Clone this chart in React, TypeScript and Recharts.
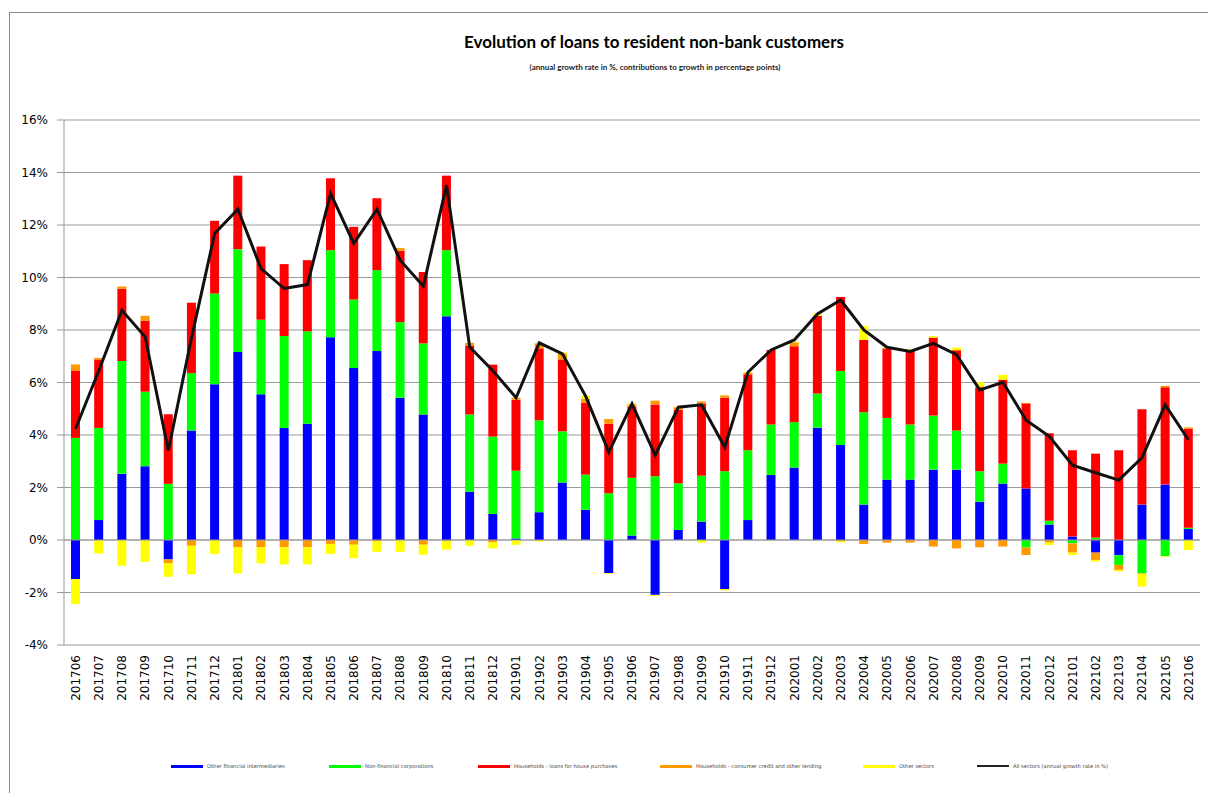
import React from 'react';
import {
  ComposedChart,
  Bar,
  Line,
  XAxis,
  YAxis,
  CartesianGrid,
  ReferenceLine
} from 'recharts';

const months = [
  '201706', '201707', '201708', '201709', '201710', '201711', '201712',
  '201801', '201802', '201803', '201804', '201805', '201806', '201807', '201808', '201809', '201810', '201811', '201812',
  '201901', '201902', '201903', '201904', '201905', '201906', '201907', '201908', '201909', '201910', '201911', '201912',
  '202001', '202002', '202003', '202004', '202005', '202006', '202007', '202008', '202009', '202010', '202011', '202012',
  '202101', '202102', '202103', '202104', '202105', '202106'
];

// contributions in percentage points
const otherFinancial = [
  -1.49, 0.76, 2.52, 2.81, -0.74, 4.17, 5.93,
  7.16, 5.55, 4.27, 4.43, 7.72, 6.55, 7.2, 5.42, 4.78, 8.52, 1.84, 0.99,
  0.06, 1.06, 2.19, 1.15, -1.26, 0.17, -2.09, 0.38, 0.7, -1.87, 0.76, 2.48,
  2.76, 4.28, 3.62, 1.35, 2.3, 2.3, 2.68, 2.68, 1.46, 2.15, 1.96, 0.59,
  0.13, -0.48, -0.58, 1.35, 2.11, 0.42
];
const nonFinancialCorp = [
  3.89, 3.51, 4.3, 2.84, 2.14, 2.19, 3.46,
  3.92, 2.84, 3.5, 3.52, 3.32, 2.61, 3.08, 2.88, 2.71, 2.52, 2.94, 2.95,
  2.58, 3.5, 1.95, 1.34, 1.78, 2.2, 2.43, 1.78, 1.75, 2.62, 2.66, 1.92,
  1.73, 1.3, 2.82, 3.52, 2.35, 2.1, 2.06, 1.49, 1.16, 0.76, -0.29, 0.14,
  -0.13, 0.09, -0.37, -1.27, -0.61, 0.05
];
const houseLoans = [
  2.55, 2.61, 2.75, 2.7, 2.65, 2.68, 2.77,
  2.8, 2.79, 2.74, 2.71, 2.74, 2.77, 2.74, 2.72, 2.72, 2.84, 2.63, 2.74,
  2.7, 2.74, 2.74, 2.74, 2.65, 2.7, 2.73, 2.8, 2.75, 2.8, 2.89, 2.84,
  2.89, 2.96, 2.82, 2.75, 2.65, 2.81, 2.97, 3.06, 3.2, 3.2, 3.25, 3.34,
  3.29, 3.2, 3.42, 3.63, 3.71, 3.77
];
const consumerCredit = [
  0.25, 0.06, 0.09, 0.19, -0.15, -0.22, 0,
  -0.28, -0.28, -0.28, -0.28, -0.15, -0.18, -0.05, 0.1, -0.18, -0.05, 0.1, -0.09,
  0.08, 0.19, 0.23, 0.15, 0.18, 0.1, 0.15, 0.1, 0.08, 0.09, 0.05, 0,
  0.15, 0, -0.05, -0.15, -0.1, -0.1, -0.25, -0.32, -0.28, -0.25, -0.28, -0.1,
  -0.35, -0.28, -0.19, -0.02, 0.05, 0.05
];
const otherSectors = [
  -0.95, -0.51, -0.98, -0.83, -0.51, -1.08, -0.53,
  -0.99, -0.61, -0.65, -0.65, -0.38, -0.51, -0.4, -0.45, -0.38, -0.32, -0.22, -0.23,
  -0.18, -0.06, 0.04, 0.12, -0.03, 0.03, -0.04, 0.02, -0.1, -0.05, 0.04, -0.02,
  0.03, 0.1, -0.04, 0.54, 0.05, 0.06, 0.06, 0.1, 0.19, 0.18, 0.02, -0.09,
  -0.09, -0.06, -0.05, -0.48, -0.03, -0.38
];
// annual growth rate in %
const allSectors = [
  4.24, 6.45, 8.75, 7.74, 3.41, 7.7, 11.68,
  12.6, 10.34, 9.58, 9.73, 13.2, 11.3, 12.6, 10.66, 9.67, 13.52, 7.35, 6.45,
  5.42, 7.51, 7.09, 5.48, 3.35, 5.19, 3.23, 5.06, 5.15, 3.54, 6.39, 7.24,
  7.62, 8.61, 9.14, 8.0, 7.34, 7.18, 7.49, 7.06, 5.72, 6.01, 4.56, 3.95,
  2.85, 2.56, 2.28, 3.14, 5.15, 3.82
];

const yTicks = [-4, -2, 0, 2, 4, 6, 8, 10, 12, 14, 16];

const series = [
  { key: 'ofi', name: 'Other financial intermediaries', color: '#0000ff', values: otherFinancial },
  { key: 'nfc', name: 'Non-financial corporations', color: '#00ff00', values: nonFinancialCorp },
  { key: 'house', name: 'Households - loans for house purchases', color: '#ff0000', values: houseLoans },
  { key: 'cons', name: 'Households - consumer credit and other lending', color: '#ff9900', values: consumerCredit },
  { key: 'other', name: 'Other sectors', color: '#ffff00', values: otherSectors }
];

const data = months.map((m, i) => {
  const row: any = { month: m, total: allSectors[i] };
  series.forEach(s => { row[s.key] = s.values[i]; });
  return row;
});

// legend slots, left edge of the swatch in px
const legendItems = [
  { name: series[0].name, color: series[0].color, left: 171, thick: 3 },
  { name: series[1].name, color: series[1].color, left: 329, thick: 3 },
  { name: series[2].name, color: series[2].color, left: 478, thick: 3 },
  { name: series[3].name, color: series[3].color, left: 660, thick: 3 },
  { name: series[4].name, color: series[4].color, left: 863, thick: 3 },
  { name: 'All sectors (annual growth rate in %)', color: '#222', left: 977, thick: 2 }
];

const MonthTick = (props: any) => {
  const { x, y, payload } = props;
  return (
    <text
      x={x}
      y={y}
      transform={`rotate(-90, ${x}, ${y})`}
      textAnchor="end"
      dy="0.36em"
      fontSize={12}
      fontFamily="'DejaVu Sans', Verdana, sans-serif"
      fill="#000"
    >
      {payload.value}
    </text>
  );
};

export default function App() {
  return (
    <div style={{ position: 'absolute', left: 0, top: 0, width: 1208, height: 793, background: '#fff', overflow: 'hidden' }}>
      <div style={{ position: 'absolute', left: 9, top: 12, width: 1205, height: 790, borderLeft: '1px solid #8a8a8a', borderTop: '1px solid #8a8a8a' }} />
      <div style={{ position: 'absolute', left: 0, width: 1308, top: 31, textAlign: 'center', fontFamily: 'Lato, sans-serif', fontWeight: 'bold', fontSize: 17, color: '#000' }}>
        Evolution of loans to resident non-bank customers
      </div>
      <div style={{ position: 'absolute', left: 0, width: 1310, top: 62, textAlign: 'center', fontFamily: 'Lato, sans-serif', fontWeight: 'bold', fontSize: 8, color: '#222' }}>
        (annual growth rate in %, contributions to growth in percentage points)
      </div>

      <ComposedChart
        width={1208}
        height={793}
        data={data}
        stackOffset="sign"
        barSize={9}
        margin={{ top: 120, right: 8, left: 4, bottom: 78 }}
      >
        <CartesianGrid vertical={false} stroke="#9a9a9a" />
        <XAxis
          dataKey="month"
          interval={0}
          axisLine={false}
          tickLine={false}
          tickSize={0}
          tickMargin={10}
          height={70}
          tick={<MonthTick />}
        />
        <YAxis
          domain={[-4, 16]}
          ticks={yTicks}
          width={60}
          tickFormatter={(v: number) => `${v}%`}
          axisLine={{ stroke: '#9a9a9a' }}
          tickLine={{ stroke: '#9a9a9a' }}
          tickSize={7}
          tickMargin={9}
          tick={{ fontSize: 12, fill: '#000', fontFamily: "'DejaVu Sans', Verdana, sans-serif" }}
        />
        <ReferenceLine y={0} stroke="#9a9a9a" />
        {series.map(s => (
          <Bar key={s.key} dataKey={s.key} name={s.name} stackId="a" fill={s.color} isAnimationActive={false} />
        ))}
        <Line
          type="linear"
          dataKey="total"
          name="All sectors (annual growth rate in %)"
          stroke="#111"
          strokeWidth={3}
          dot={false}
          isAnimationActive={false}
        />
      </ComposedChart>

      {legendItems.map(item => (
        <div key={item.name} style={{ position: 'absolute', left: item.left, top: 761, height: 10, display: 'flex', alignItems: 'center', fontFamily: "'DejaVu Sans', sans-serif", fontSize: 5.2, color: '#444', whiteSpace: 'nowrap' }}>
          <span style={{ display: 'inline-block', width: 32, height: item.thick, background: item.color, marginRight: 4 }} />
          {item.name}
        </div>
      ))}
    </div>
  );
}
